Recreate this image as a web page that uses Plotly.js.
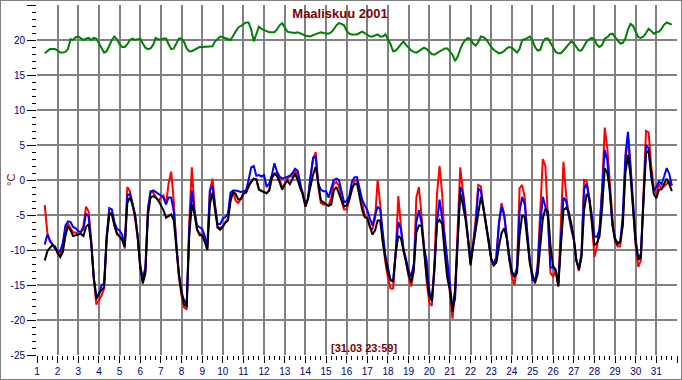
<!DOCTYPE html>
<html>
<head>
<meta charset="utf-8">
<script src="https://cdn.plot.ly/plotly-3.0.1.min.js"></script>
<style>
  html, body { margin: 0; padding: 0; background: #fff; }
  #wrap { position: relative; width: 682px; height: 380px; }
  #chart { width: 682px; height: 380px; }
  #frame { position: absolute; left: 0; top: 0; width: 680px; height: 378px;
           border: 1px solid #808080; pointer-events: none; }
</style>
</head>
<body>
<div id="wrap"><div id="chart"></div><div id="frame"></div></div>
<script>
// Sampling of the readings: first reading at day 1.375, one reading every 3 hours (0.125 day)
const tStart = 1.375;
const tStep = 0.125;

const titleText = "Maaliskuu 2001";
const stampText = "[31.03 23:59]";
const unitText = "°C";

const yTickVals = [-25, -20, -15, -10, -5, 0, 5, 10, 15, 20, 25];
const yTickText = ["-25", "-20", "-15", "-10", "-5", "0", "5", "10", "15", "20", "25"];
const xTickVals = [1,2,3,4,5,6,7,8,9,10,11,12,13,14,15,16,17,18,19,20,21,22,23,24,25,26,27,28,29,30,31,32];

// Green series (indoor / upper)
const green = [
  18.1, 18.4, 18.7, 18.7, 18.7,
  18.5, 18.2, 18.2, 18.3, 18.7, 20.1, 20.0, 20.4,
  20.5, 20.3, 20.0, 20.2, 20.3, 20.0, 20.3, 20.2,
  19.5, 18.7, 18.2, 18.4, 19.3, 20.0, 20.5, 20.1,
  19.4, 19.0, 19.0, 19.4, 20.0, 20.2, 20.0, 20.1,
  20.2, 19.5, 18.9, 18.7, 18.8, 19.3, 20.3, 20.1,
  20.05, 20.2, 20.2, 19.4, 18.7, 18.8, 19.6, 20.2,
  20.2, 19.7, 18.8, 18.4, 18.4, 18.6, 18.9, 19.0,
  19.0, 19.0, 19.0, 19.0, 19.1, 19.8, 20.1, 20.5,
  20.4, 20.3, 20.1, 20.0, 20.6, 21.3, 21.8, 22.0,
  22.3, 22.5, 22.5, 21.5, 19.8, 20.8, 21.9, 21.6,
  21.4, 21.2, 21.1, 21.1, 21.1, 21.5, 22.1, 22.4,
  21.7, 21.2, 21.1, 21.0, 21.0, 21.1, 21.0, 20.8,
  20.6, 20.5, 20.5, 20.7, 20.85, 21.0, 21.1, 21.0,
  20.9, 20.9, 21.1, 21.5, 22.1, 22.4, 22.3, 22.1,
  21.3, 20.9, 20.8, 20.8, 20.8, 21.0, 21.2, 21.0,
  20.8, 20.5, 20.5, 20.7, 20.8, 20.5, 20.5, 20.8,
  20.2, 19.4, 18.4, 18.5, 18.9, 19.4, 19.8, 19.3,
  18.9, 18.5, 18.3, 18.2, 18.4, 18.6, 18.9, 18.7,
  18.4, 18.0, 17.9, 18.1, 18.4, 18.6, 18.8, 18.8,
  18.3, 17.9, 17.0, 17.6, 18.7, 19.5, 20.0, 20.3,
  20.1, 19.5, 19.2, 19.7, 20.5, 20.4, 20.1, 19.5,
  19.0, 18.6, 18.3, 18.1, 18.2, 18.4, 18.8, 19.0,
  18.9, 18.5, 18.2, 18.7, 20.0, 20.1, 20.3, 20.5,
  19.9, 19.0, 18.5, 18.6, 19.7, 20.2, 20.2, 19.5,
  18.9, 18.3, 18.1, 18.1, 18.5, 18.9, 19.3, 19.8,
  19.5, 18.9, 18.5, 18.5, 19.2, 19.8, 20.1, 20.3,
  20.1, 19.3, 19.0, 19.3, 20.2, 20.4, 20.8, 20.9,
  20.4, 20.0, 19.5, 19.6, 20.2, 21.5, 22.3, 22.0,
  21.1, 20.4, 20.3, 20.5, 21.0, 21.6, 21.3, 20.9,
  21.1, 21.2, 21.6, 22.2, 22.5, 22.3, 22.2
];

// Red series
const red = [
  -3.6, -7.5, -8.8, -9.2, -9.6,
  -10.3, -10.6, -9.5, -7.0, -6.2, -6.8, -7.5, -7.5,
  -7.8, -7.5, -6.5, -3.8, -4.5, -8.5, -14.0, -17.8,
  -17.2, -16.5, -15.5, -8.0, -4.8, -4.6, -6.5, -7.8,
  -8.0, -8.3, -9.8, -1.0, -1.6, -3.5, -5.5, -8.3,
  -12.0, -14.5, -13.0, -4.0, -1.6, -1.8, -2.5, -3.0,
  -2.5, -2.2, -3.5, -0.5, 1.2, -3.0, -9.5, -14.0,
  -16.5, -18.2, -18.5, -6.0, 1.8, -4.0, -7.2, -7.6,
  -7.8, -8.8, -9.8, -1.5, 0.2, -3.5, -6.8, -6.8,
  -6.8, -6.0, -5.5, -2.5, -1.7, -3.0, -3.3, -2.7,
  -2.0, -1.8, -1.0, -0.2, 0.2, 0.1, -1.3, -1.5,
  -1.8, -1.9, -1.4, 0.2, 0.9, 1.0, 0.2, -1.2,
  -0.5, 0.2, 0.5, 0.5, 1.3, 0.6, -0.8, -1.8,
  -3.8, -2.6, 0.5, 3.0, 4.0, -1.0, -3.3, -3.5,
  -3.5, -3.7, -2.5, -0.5, -0.3, -0.9, -3.0, -4.2,
  -4.2, -2.8, -1.4, -0.2, 0.1, -1.5, -3.0, -5.2,
  -5.3, -6.8, -7.0, -5.5, 0.0, -3.5, -8.6, -11.8,
  -14.0, -15.5, -15.5, -10.5, -2.3, -6.5, -10.2, -11.5,
  -13.8, -15.2, -13.0, -2.5, -1.0, -5.0, -10.0, -14.5,
  -17.5, -18.0, -12.0, -2.0, 2.0, -2.0, -9.0, -12.4,
  -16.0, -19.8, -16.0, -7.0, 1.8, -1.5, -4.5, -8.5,
  -12.0, -9.0, -5.5, -0.7, -0.9, -4.0, -6.5, -9.0,
  -11.2, -12.3, -11.0, -6.5, -3.3, -4.8, -8.2, -11.3,
  -13.8, -15.0, -12.5, -1.2, -0.7, -2.5, -8.0, -11.9,
  -13.8, -14.8, -12.0, -3.5, 3.0, 2.0, -6.5, -13.3,
  -13.8, -13.0, -15.2, -6.0, 2.6, -2.0, -5.0, -7.0,
  -8.5, -11.5, -13.0, -10.5, 0.0, -0.2, -2.5, -6.0,
  -11.0, -9.5, -7.0, -1.0, 7.5, 4.5, -1.0, -5.5,
  -8.8, -9.5, -9.5, -6.0, 2.5, 6.2, 1.5, -4.3,
  -9.5, -12.4, -11.5, -2.0, 7.0, 6.8, 2.0, -1.0,
  -2.0, -0.6, -1.3, -0.9, -0.5, -0.2, -0.8
];

// Blue series
const blue = [
  -9.2, -7.8, -8.6, -9.3, -9.8,
  -10.1, -10.2, -9.0, -6.5, -5.9, -6.0, -6.7, -6.9,
  -7.3, -7.4, -7.0, -4.8, -5.2, -9.0, -14.0, -16.5,
  -16.5, -15.0, -14.8, -8.0, -4.0, -4.2, -6.0, -7.0,
  -7.2, -7.8, -9.5, -2.2, -2.0, -3.3, -5.0, -8.0,
  -12.5, -14.0, -12.5, -4.2, -1.7, -1.5, -1.7, -2.0,
  -2.2, -2.5, -3.5, -2.5, -2.5, -4.5, -9.0, -13.5,
  -16.0, -17.2, -17.7, -7.0, -1.5, -4.5, -6.5, -6.8,
  -7.0, -8.0, -9.5, -1.5, -0.8, -3.8, -6.3, -6.3,
  -5.5, -5.3, -4.8, -1.8, -1.5, -1.5, -1.6, -1.7,
  -1.6, -1.5, 0.0, 1.8, 2.0, 0.6, 0.7, 0.5,
  0.7, -1.0, -0.5, 0.7, 2.4, 1.2, 0.5, 0.2,
  0.3, 0.5, 0.6, 1.0, 1.6, 1.3, -0.5, -2.2,
  -3.3, -2.8, 0.5, 3.2, 3.3, -0.5, -1.4, -1.6,
  -1.6, -2.5, -1.2, 0.0, 0.2, 0.0, -1.6, -3.2,
  -3.0, -2.3, -0.3, 0.4, 0.4, -1.0, -2.8, -3.6,
  -4.3, -5.5, -6.5, -5.0, -3.8, -4.2, -8.0, -10.8,
  -12.5, -14.3, -14.5, -10.0, -6.0, -7.0, -9.7, -11.3,
  -13.0, -13.8, -12.0, -6.0, -4.3, -6.2, -9.6, -11.6,
  -15.8, -17.3, -13.0, -6.0, -2.8, -5.5, -8.0, -11.4,
  -15.0, -18.3, -17.0, -8.0, -1.0, -1.8, -5.0, -8.5,
  -11.3, -9.3, -6.5, -1.2, -1.6, -4.0, -6.0, -8.5,
  -11.3, -12.0, -11.0, -6.0, -3.8, -5.0, -8.0, -10.5,
  -13.3, -13.8, -12.5, -4.5, -2.4, -3.5, -7.5, -11.5,
  -14.3, -14.5, -12.5, -6.5, -2.4, -3.8, -5.2, -12.5,
  -12.5, -13.0, -14.8, -8.5, -2.5, -3.0, -4.8, -6.7,
  -8.5, -11.5, -12.5, -10.5, -1.3, -0.5, -2.5, -5.0,
  -8.1, -8.1, -7.0, -2.0, 4.3, 2.8, -1.4, -6.5,
  -8.3, -9.0, -8.8, -5.0, 3.5, 6.9, 2.0, -3.5,
  -8.5, -11.3, -10.5, -3.0, 5.0, 4.5, 0.4, -1.5,
  -1.0, -0.2, -0.6, 0.5, 1.7, 0.9, -0.8
];

// Black series
const black = [
  -11.5, -10.2, -9.7, -9.3, -9.5,
  -10.5, -11.0, -10.3, -8.0, -6.6, -7.2, -8.0, -7.9,
  -7.8, -7.7, -8.0, -6.7, -6.3, -9.0, -14.0, -17.0,
  -16.2, -15.8, -15.3, -8.5, -4.9, -4.9, -6.5, -7.6,
  -8.2, -8.6, -9.5, -3.3, -2.5, -3.5, -5.0, -8.0,
  -12.4, -14.8, -13.3, -5.0, -2.5, -2.3, -2.5, -2.9,
  -3.6, -4.3, -5.4, -5.1, -4.9, -5.8, -9.5, -13.5,
  -16.0, -17.8, -18.0, -8.0, -3.5, -4.8, -7.0, -7.9,
  -7.9, -8.8, -10.0, -3.5, -1.8, -4.3, -6.8, -7.1,
  -6.6, -6.1, -5.8, -3.0, -1.7, -2.0, -2.8, -2.7,
  -1.9, -1.8, -0.8, -0.3, 0.2, 0.1, -1.4, -1.6,
  -1.7, -1.9, -1.5, 0.4, 0.9, 0.6, -0.3, -1.4,
  -0.6, -0.1, -0.6, 0.2, 0.9, 0.0, -1.2, -2.0,
  -3.8, -2.6, -1.0, 0.8, 1.9, -0.8, -2.9, -3.2,
  -3.5, -3.7, -3.5, -1.5, -1.0, -1.9, -3.0, -3.8,
  -3.6, -2.8, -1.2, -0.6, -0.5, -2.3, -4.3, -5.3,
  -5.5, -6.6, -7.8, -7.2, -5.8, -5.8, -9.0, -11.2,
  -13.3, -14.3, -14.5, -10.5, -8.0, -8.3, -10.2, -12.0,
  -13.5, -14.6, -12.8, -7.5, -6.5, -6.5, -10.5, -13.8,
  -16.5, -17.3, -12.5, -6.2, -5.7, -6.3, -10.5, -14.0,
  -15.7, -18.8, -15.7, -7.6, -1.8, -3.5, -5.5, -8.5,
  -12.2, -9.5, -7.0, -4.3, -2.4, -4.0, -6.5, -8.3,
  -11.3, -12.2, -11.8, -9.5, -7.6, -6.9, -8.2, -11.3,
  -13.0, -13.8, -13.3, -8.0, -5.0, -5.3, -8.5, -11.9,
  -13.5, -14.6, -13.5, -9.0, -5.5, -4.1, -4.5, -9.5,
  -12.3, -12.8, -15.2, -9.5, -4.3, -4.0, -4.5, -6.2,
  -8.2, -11.5, -12.8, -11.0, -4.3, -2.0, -2.6, -6.0,
  -9.3, -9.0, -8.0, -4.0, 1.7, 1.0, -1.5, -6.5,
  -8.6, -9.2, -8.8, -6.5, 1.0, 3.6, 0.5, -4.3,
  -9.0, -11.4, -11.0, -3.0, 3.8, 4.2, 0.6, -2.0,
  -2.6, -1.4, -1.3, -0.5, 0.2, -0.6, -1.6
];

const time = green.map((_, i) => tStart + i * tStep);

function line(y, color) {
  return { x: time, y: y, type: "scatter", mode: "lines",
           line: { color: color, width: 2 }, hoverinfo: "skip", showlegend: false };
}

const data = [
  line(green, "#008000"),
  line(red, "#ff0000"),
  line(blue, "#0000ff"),
  line(black, "#000000")
];

const tickFont = { family: "Arial, 'Liberation Sans', sans-serif", size: 10, color: "#000080" };

const layout = {
  width: 682, height: 380,
  margin: { l: 37, r: 5, t: 5, b: 25, pad: 0 },
  paper_bgcolor: "#ffffff", plot_bgcolor: "#ffffff",
  showlegend: false,
  title: {
    text: "<b>" + titleText + "</b>",
    font: { family: "Arial, 'Liberation Sans', sans-serif", size: 13, color: "#800000" },
    xref: "container", yref: "container",
    x: 340 / 682, y: 1 - 13 / 380, xanchor: "center", yanchor: "middle"
  },
  xaxis: {
    range: [1, 32], fixedrange: true,
    tickmode: "array", tickvals: xTickVals,
    ticks: "outside", ticklen: 7, tickwidth: 1, tickcolor: "#000000",
    tickfont: tickFont,
    showgrid: true, gridcolor: "#808080", gridwidth: 2,
    zeroline: false, showline: false,
    minor: { dtick: 0.25, ticks: "outside", ticklen: 4, tickwidth: 1, tickcolor: "#000000", showgrid: false }
  },
  yaxis: {
    range: [-25, 25], fixedrange: true,
    tickmode: "array", tickvals: yTickVals, ticktext: yTickText,
    ticks: "outside", ticklen: 9, tickwidth: 1, tickcolor: "#000000",
    tickfont: tickFont,
    showgrid: true, gridcolor: "#808080", gridwidth: 2,
    zeroline: false, showline: false,
    minor: { dtick: 1, ticks: "outside", ticklen: 4, tickwidth: 1, tickcolor: "#000000", showgrid: false }
  },
  annotations: [
    { text: unitText, xref: "paper", yref: "paper", x: -26 / 640, y: 0.5,
      xanchor: "center", yanchor: "middle", textangle: -90, showarrow: false,
      font: { family: "Arial, 'Liberation Sans', sans-serif", size: 11, color: "#800000" } },
    { text: "<b>" + stampText + "</b>", xref: "paper", yref: "paper",
      x: (363.5 - 37) / 640, y: (355 - 347.5) / 350,
      xanchor: "center", yanchor: "middle", showarrow: false,
      font: { family: "Arial, 'Liberation Sans', sans-serif", size: 11, color: "#800000" } }
  ]
};

Plotly.newPlot("chart", data, layout, { displayModeBar: false, staticPlot: true });
</script>
</body>
</html>
